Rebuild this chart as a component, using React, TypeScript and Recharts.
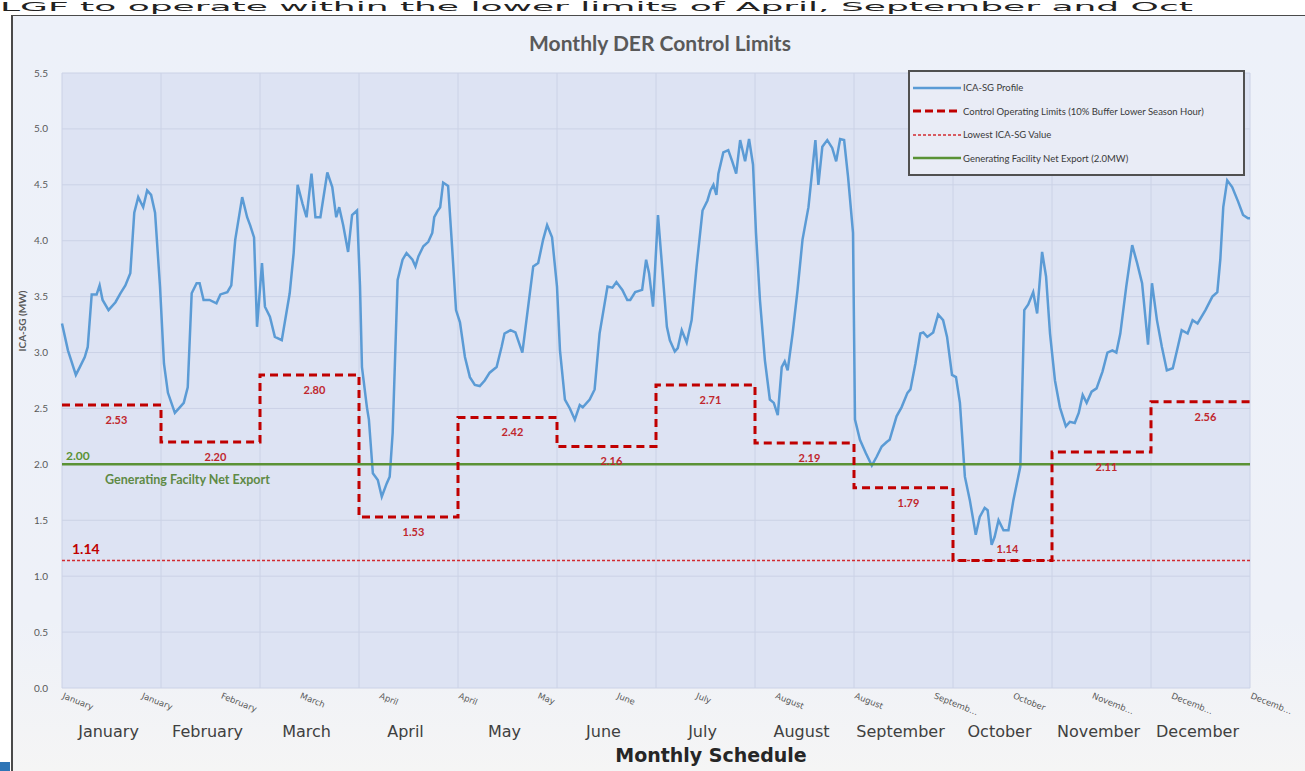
import React from 'react'
import { LineChart, Line, XAxis, YAxis, CartesianGrid, LabelList } from 'recharts'

const MONTHS = [
  'January', 'February', 'March', 'April', 'May', 'June',
  'July', 'August', 'September', 'October', 'November', 'December'
]

// control operating limit per month (MW)
const MONTH_LIMITS = [2.53, 2.2, 2.8, 1.53, 2.42, 2.16, 2.71, 2.19, 1.79, 1.14, 2.11, 2.56]
const LOWEST_VALUE = 1.14
const NET_EXPORT = 2.0

const Y_TICKS = [0, 0.5, 1, 1.5, 2, 2.5, 3, 3.5, 4, 4.5, 5, 5.5]
const MONTH_EDGES = [0, 1, 2, 3, 4, 5, 6, 7, 8, 9, 10, 11, 12]

// slanted category labels along the axis (position in months)
const SLANT_TICKS = [0, 0.8, 1.6, 2.4, 3.2, 4, 4.8, 5.6, 6.4, 7.2, 8, 8.8, 9.6, 10.4, 11.2, 12]
const SLANT_LABELS = [
  'January', 'January', 'February', 'March', 'April', 'April', 'May', 'June',
  'July', 'August', 'August', 'Septemb…', 'October', 'Novemb…', 'Decemb…', 'Decemb…'
]

// ICA-SG profile: [time in months, MW]
const PROFILE = [
  [0.0, 3.26], [0.06, 3.02], [0.14, 2.8], [0.18, 2.87], [0.23, 2.96], [0.26, 3.05], [0.3, 3.52], [0.35, 3.52],
  [0.38, 3.6], [0.41, 3.47], [0.47, 3.38], [0.54, 3.45], [0.59, 3.53], [0.64, 3.6], [0.69, 3.71], [0.73, 4.25],
  [0.77, 4.39], [0.82, 4.3], [0.86, 4.45], [0.9, 4.41], [0.94, 4.25], [0.99, 3.59], [1.03, 2.9], [1.07, 2.64],
  [1.14, 2.46], [1.19, 2.51], [1.23, 2.55], [1.27, 2.69], [1.31, 3.53], [1.36, 3.62], [1.39, 3.62], [1.43, 3.47],
  [1.49, 3.47], [1.56, 3.44], [1.6, 3.52], [1.67, 3.54], [1.71, 3.6], [1.75, 4.01], [1.82, 4.39], [1.87, 4.21],
  [1.9, 4.14], [1.94, 4.03], [1.97, 3.23], [2.02, 3.8], [2.05, 3.41], [2.1, 3.32], [2.15, 3.14], [2.22, 3.11],
  [2.3, 3.53], [2.34, 3.89], [2.38, 4.5], [2.43, 4.33], [2.47, 4.21], [2.52, 4.6], [2.56, 4.21], [2.61, 4.21],
  [2.68, 4.61], [2.73, 4.48], [2.77, 4.21], [2.8, 4.3], [2.84, 4.14], [2.89, 3.9], [2.93, 4.23], [2.98, 4.27],
  [3.01, 3.6], [3.03, 2.87], [3.08, 2.51], [3.1, 2.4], [3.14, 1.92], [3.19, 1.86], [3.23, 1.71], [3.28, 1.83],
  [3.31, 1.89], [3.34, 2.28], [3.39, 3.65], [3.44, 3.83], [3.48, 3.89], [3.54, 3.83], [3.57, 3.77], [3.6, 3.86],
  [3.65, 3.95], [3.7, 3.99], [3.74, 4.07], [3.76, 4.21], [3.79, 4.26], [3.82, 4.3], [3.85, 4.52], [3.9, 4.49],
  [3.94, 3.95], [3.98, 3.38], [4.02, 3.27], [4.07, 2.96], [4.12, 2.78], [4.17, 2.71], [4.22, 2.7], [4.27, 2.75],
  [4.32, 2.82], [4.39, 2.87], [4.44, 3.05], [4.47, 3.17], [4.53, 3.2], [4.58, 3.18], [4.65, 3.0], [4.7, 3.35],
  [4.76, 3.77], [4.81, 3.8], [4.86, 4.01], [4.9, 4.14], [4.95, 4.03], [5.0, 3.59], [5.03, 3.02], [5.08, 2.58],
  [5.13, 2.5], [5.18, 2.4], [5.23, 2.53], [5.26, 2.51], [5.33, 2.58], [5.38, 2.67], [5.43, 3.17], [5.51, 3.59],
  [5.56, 3.58], [5.6, 3.63], [5.66, 3.56], [5.71, 3.47], [5.74, 3.47], [5.79, 3.54], [5.86, 3.56], [5.9, 3.83],
  [5.93, 3.71], [5.97, 3.41], [6.02, 4.23], [6.11, 3.23], [6.14, 3.11], [6.19, 3.01], [6.22, 3.04], [6.26, 3.2],
  [6.31, 3.09], [6.36, 3.29], [6.41, 3.77], [6.47, 4.27], [6.52, 4.36], [6.55, 4.45], [6.58, 4.5], [6.61, 4.41],
  [6.63, 4.6], [6.68, 4.79], [6.73, 4.81], [6.77, 4.71], [6.81, 4.6], [6.85, 4.9], [6.9, 4.71], [6.94, 4.91],
  [6.98, 4.68], [7.01, 4.07], [7.05, 3.47], [7.1, 2.93], [7.15, 2.58], [7.19, 2.55], [7.23, 2.44], [7.27, 2.87],
  [7.3, 2.92], [7.33, 2.84], [7.38, 3.17], [7.43, 3.56], [7.48, 4.01], [7.54, 4.3], [7.61, 4.9], [7.64, 4.5],
  [7.68, 4.84], [7.73, 4.9], [7.78, 4.83], [7.82, 4.71], [7.86, 4.91], [7.9, 4.9], [7.94, 4.57], [7.99, 4.07],
  [8.01, 2.4], [8.06, 2.22], [8.12, 2.1], [8.18, 1.99], [8.23, 2.07], [8.28, 2.16], [8.33, 2.2], [8.36, 2.22],
  [8.43, 2.43], [8.48, 2.51], [8.54, 2.64], [8.57, 2.67], [8.62, 2.9], [8.67, 3.17], [8.7, 3.18], [8.74, 3.14],
  [8.8, 3.18], [8.85, 3.34], [8.9, 3.29], [8.94, 3.14], [8.99, 2.8], [9.03, 2.78], [9.07, 2.55], [9.12, 1.89],
  [9.17, 1.68], [9.23, 1.37], [9.27, 1.53], [9.32, 1.61], [9.35, 1.59], [9.39, 1.28], [9.42, 1.35], [9.46, 1.5],
  [9.51, 1.41], [9.56, 1.41], [9.61, 1.68], [9.68, 1.98], [9.72, 3.38], [9.76, 3.43], [9.81, 3.54], [9.85, 3.35],
  [9.9, 3.9], [9.94, 3.68], [9.98, 3.17], [10.03, 2.75], [10.08, 2.51], [10.14, 2.34], [10.18, 2.38], [10.23, 2.37],
  [10.27, 2.46], [10.31, 2.62], [10.35, 2.55], [10.4, 2.65], [10.45, 2.68], [10.51, 2.83], [10.56, 3.0], [10.61, 3.02],
  [10.65, 3.0], [10.69, 3.17], [10.75, 3.59], [10.81, 3.96], [10.86, 3.8], [10.91, 3.62], [10.97, 3.07], [11.01, 3.62],
  [11.06, 3.29], [11.11, 3.05], [11.16, 2.84], [11.22, 2.86], [11.26, 3.01], [11.31, 3.2], [11.37, 3.17], [11.42, 3.29],
  [11.47, 3.26], [11.55, 3.38], [11.62, 3.5], [11.67, 3.54], [11.7, 3.83], [11.73, 4.3], [11.77, 4.54], [11.82, 4.48],
  [11.88, 4.35], [11.93, 4.23], [11.98, 4.2], [12.0, 4.2]
]

const profileData = PROFILE.map(([t, mw]) => ({ t, mw }))
const limitData = [
  ...MONTH_LIMITS.map((limit, i) => ({ t: i, limit })),
  { t: 12, limit: MONTH_LIMITS[MONTH_LIMITS.length - 1] }
]
const limitLabelData = MONTH_LIMITS.map((limit, i) => ({ t: i + 0.55, limit }))
const lowestData = [{ t: 0, v: LOWEST_VALUE }, { t: 12, v: LOWEST_VALUE }]
const exportData = [{ t: 0, v: NET_EXPORT }, { t: 12, v: NET_EXPORT }]
// month names sit under the axis at each month's middle
const monthNameData = MONTHS.map((name, i) => ({ t: i + 0.47, v: 0, name }))

const BLUE = '#5b9bd5'
const DARK_RED = '#c00000'
const RED = '#d22b30'
const GREEN = '#5a9235'
const LABEL_FONT = 'Lato, "Open Sans", sans-serif'
const AXIS_FONT = '"DejaVu Sans", sans-serif'

function SlantTick(props: any) {
  const { x, y, payload, index } = props
  const label = SLANT_LABELS[index] ?? SLANT_LABELS[SLANT_TICKS.indexOf(payload.value)]
  return (
    <text
      x={x}
      y={y + 8}
      transform={`rotate(22, ${x}, ${y + 8})`}
      fontSize={8.5}
      fill="#5a5a5a"
      fontFamily={AXIS_FONT}
    >
      {label}
    </text>
  )
}

function MonthName(props: any) {
  const { x, y, value } = props
  return (
    <text x={x} y={y + 49} textAnchor="middle" fontSize={16} fill="#404040" fontFamily={AXIS_FONT}>
      {value}
    </text>
  )
}

function LimitLabel(props: any) {
  const { x, y, value } = props
  const above = value === LOWEST_VALUE
  return (
    <text
      x={x}
      y={above ? y - 8 : y + 19}
      textAnchor="middle"
      fontSize={11}
      fontWeight={700}
      fill="#c0272d"
      fontFamily={LABEL_FONT}
    >
      {Number(value).toFixed(2)}
    </text>
  )
}

function LowestLabel(props: any) {
  const { x, y, index } = props
  if (index !== 0) return null
  return (
    <text x={x + 10} y={y - 7} fontSize={14} fontWeight={700} fill={DARK_RED} fontFamily={LABEL_FONT}>
      {LOWEST_VALUE.toFixed(2)}
    </text>
  )
}

function ExportLabel(props: any) {
  const { x, y, index } = props
  if (index !== 0) return null
  return (
    <g fontFamily={LABEL_FONT} fontWeight={700} fill={GREEN}>
      <text x={x + 4} y={y - 4} fontSize={12}>{NET_EXPORT.toFixed(2)}</text>
      <text x={x + 43} y={y + 20} fontSize={12.5} fill="#5f8a45">Generating Facilty Net Export</text>
    </g>
  )
}

const legendItems = [
  { name: 'ICA-SG  Profile', color: BLUE, width: 2.5, dash: undefined },
  { name: 'Control Operating Limits (10% Buffer Lower Season Hour)', color: DARK_RED, width: 3, dash: '8 4' },
  { name: 'Lowest ICA-SG Value', color: RED, width: 1.6, dash: '3 2' },
  { name: 'Generating Facility Net Export (2.0MW)', color: GREEN, width: 2.5, dash: undefined }
]

function ChartLegend() {
  return (
    <div
      style={{
        position: 'absolute',
        left: 908,
        top: 70,
        width: 333,
        height: 98,
        border: '2px solid #505050',
        background: '#e9ecf6',
        paddingTop: 4,
        boxSizing: 'content-box'
      }}
    >
      {legendItems.map((item) => (
        <div key={item.name} style={{ display: 'flex', alignItems: 'center', height: 23.5 }}>
          <svg width={50} height={8} style={{ marginLeft: 3 }}>
            <line x1={0} y1={4} x2={48} y2={4} stroke={item.color} strokeWidth={item.width} strokeDasharray={item.dash} />
          </svg>
          <span style={{ fontFamily: LABEL_FONT, fontSize: 9.5, color: '#3a3a3a', whiteSpace: 'nowrap' }}>
            {item.name}
          </span>
        </div>
      ))}
    </div>
  )
}

export default function App() {
  return (
    <div
      style={{
        position: 'absolute',
        left: 0,
        top: 0,
        width: 1305,
        height: 771,
        overflow: 'hidden',
        background: '#ffffff'
      }}
    >
      {/* slide heading squeezed into the strip above the chart frame */}
      <div
        style={{
          position: 'absolute',
          left: 0,
          top: 0,
          fontFamily: AXIS_FONT,
          fontSize: 36,
          lineHeight: '42px',
          color: '#222',
          whiteSpace: 'nowrap',
          transform: 'scaleY(0.32)',
          transformOrigin: 'top left'
        }}
      >
        LGF to operate within the lower limits of April, September and Oct
      </div>
      <div
        style={{
          position: 'absolute',
          left: 11,
          top: 15,
          width: 1294,
          height: 756,
          borderLeft: '2px solid #4a4a4a',
          borderTop: '1px solid #4a4a4a',
          background: 'linear-gradient(#edf1f9 0%, #eef1f8 80%, #f5f5f5 100%)'
        }}
      />
      <div style={{ position: 'absolute', left: 0, top: 762, width: 10, height: 9, background: '#2e75b6' }} />
      <div
        style={{
          position: 'absolute',
          left: 0,
          width: 1320,
          top: 30,
          textAlign: 'center',
          fontFamily: LABEL_FONT,
          fontWeight: 700,
          fontSize: 21,
          color: '#595959'
        }}
      >
        Monthly DER Control Limits
      </div>
      <div style={{ position: 'absolute', left: 0, top: 0 }}>
        <LineChart width={1305} height={771} margin={{ top: 73, right: 55, bottom: 51, left: 12 }}>
          <CartesianGrid
            fill="#dde3f3"
            stroke="#cbd2e6"
            horizontalValues={Y_TICKS}
            verticalValues={MONTH_EDGES}
          />
          <XAxis
            type="number"
            dataKey="t"
            domain={[0, 12]}
            ticks={SLANT_TICKS}
            interval={0}
            height={32}
            axisLine={false}
            tickLine={false}
            tickSize={0}
            tickMargin={2}
            tick={<SlantTick />}
          />
          <YAxis
            type="number"
            domain={[0, 5.5]}
            ticks={Y_TICKS}
            interval={0}
            width={50}
            axisLine={false}
            tickLine={false}
            tickSize={0}
            tickMargin={14}
            tickFormatter={(v: number) => v.toFixed(1)}
            tick={{ fontSize: 10, fill: '#595959', fontFamily: LABEL_FONT }}
          />
          <Line
            data={monthNameData}
            dataKey="v"
            stroke="none"
            dot={false}
            activeDot={false}
            legendType="none"
            isAnimationActive={false}
          >
            <LabelList dataKey="name" content={<MonthName />} />
          </Line>
          <Line
            data={profileData}
            dataKey="mw"
            type="linear"
            stroke={BLUE}
            strokeWidth={2.5}
            dot={false}
            activeDot={false}
            isAnimationActive={false}
          />
          <Line
            data={exportData}
            dataKey="v"
            type="linear"
            stroke={GREEN}
            strokeWidth={2.5}
            dot={false}
            activeDot={false}
            isAnimationActive={false}
          >
            <LabelList dataKey="v" content={<ExportLabel />} />
          </Line>
          <Line
            data={lowestData}
            dataKey="v"
            type="linear"
            stroke={RED}
            strokeWidth={1.6}
            strokeDasharray="3 2"
            dot={false}
            activeDot={false}
            isAnimationActive={false}
          >
            <LabelList dataKey="v" content={<LowestLabel />} />
          </Line>
          <Line
            data={limitData}
            dataKey="limit"
            type="stepAfter"
            stroke={DARK_RED}
            strokeWidth={3}
            strokeDasharray="8 5"
            dot={false}
            activeDot={false}
            isAnimationActive={false}
          />
          <Line
            data={limitLabelData}
            dataKey="limit"
            stroke="none"
            dot={false}
            activeDot={false}
            isAnimationActive={false}
          >
            <LabelList dataKey="limit" content={<LimitLabel />} />
          </Line>
        </LineChart>
      </div>
      <ChartLegend />
      <div
        style={{
          position: 'absolute',
          left: 22 - 50,
          top: 315,
          width: 100,
          textAlign: 'center',
          transform: 'rotate(-90deg)',
          fontFamily: LABEL_FONT,
          fontWeight: 700,
          fontSize: 10,
          color: '#595959'
        }}
      >
        ICA-SG (MW)
      </div>
      <div
        style={{
          position: 'absolute',
          left: 511,
          width: 400,
          top: 744,
          textAlign: 'center',
          fontFamily: AXIS_FONT,
          fontWeight: 700,
          fontSize: 19,
          color: '#262626'
        }}
      >
        Monthly Schedule
      </div>
    </div>
  )
}
